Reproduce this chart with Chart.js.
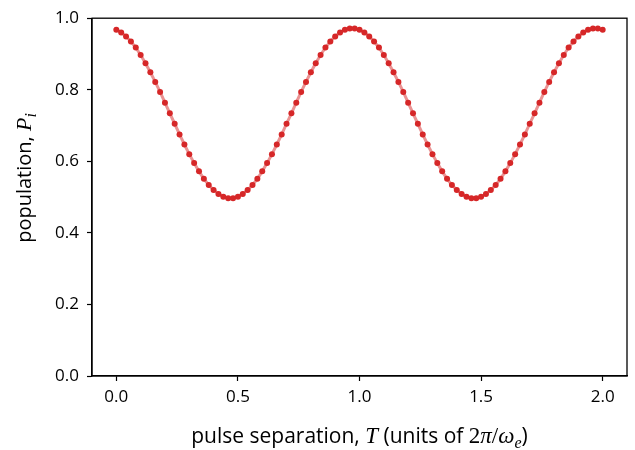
<!DOCTYPE html>
<html>
<head>
<meta charset="utf-8">
<script src="https://cdn.jsdelivr.net/npm/chart.js@4"></script>
<style>
  html, body { margin: 0; padding: 0; background: #fff; }
  #wrap { width: 635px; height: 450px; }
</style>
</head>
<body>
<div id="wrap"><canvas id="myChart" width="635" height="450"></canvas></div>
<script>
// pulse separation T (units of 2pi/omega_e), step 0.02
const separations = [
  0.00, 0.02, 0.04, 0.06, 0.08, 0.10, 0.12, 0.14, 0.16, 0.18,
  0.20, 0.22, 0.24, 0.26, 0.28, 0.30, 0.32, 0.34, 0.36, 0.38,
  0.40, 0.42, 0.44, 0.46, 0.48, 0.50, 0.52, 0.54, 0.56, 0.58,
  0.60, 0.62, 0.64, 0.66, 0.68, 0.70, 0.72, 0.74, 0.76, 0.78,
  0.80, 0.82, 0.84, 0.86, 0.88, 0.90, 0.92, 0.94, 0.96, 0.98,
  1.00, 1.02, 1.04, 1.06, 1.08, 1.10, 1.12, 1.14, 1.16, 1.18,
  1.20, 1.22, 1.24, 1.26, 1.28, 1.30, 1.32, 1.34, 1.36, 1.38,
  1.40, 1.42, 1.44, 1.46, 1.48, 1.50, 1.52, 1.54, 1.56, 1.58,
  1.60, 1.62, 1.64, 1.66, 1.68, 1.70, 1.72, 1.74, 1.76, 1.78,
  1.80, 1.82, 1.84, 1.86, 1.88, 1.90, 1.92, 1.94, 1.96, 1.98,
  2.00,
];

// population P_i
const population = [
  0.968, 0.960, 0.949, 0.935, 0.918, 0.897, 0.874, 0.849, 0.822, 0.794,
  0.764, 0.734, 0.705, 0.675, 0.647, 0.620, 0.595, 0.572, 0.551, 0.534,
  0.520, 0.509, 0.501, 0.497, 0.497, 0.501, 0.509, 0.520, 0.534, 0.551,
  0.572, 0.595, 0.620, 0.647, 0.675, 0.705, 0.734, 0.764, 0.794, 0.822,
  0.849, 0.874, 0.897, 0.918, 0.935, 0.949, 0.960, 0.968, 0.971, 0.971,
  0.968, 0.960, 0.949, 0.935, 0.918, 0.897, 0.874, 0.849, 0.822, 0.794,
  0.764, 0.734, 0.705, 0.675, 0.647, 0.620, 0.595, 0.572, 0.551, 0.534,
  0.520, 0.509, 0.501, 0.497, 0.497, 0.501, 0.509, 0.520, 0.534, 0.551,
  0.572, 0.595, 0.620, 0.647, 0.675, 0.705, 0.734, 0.764, 0.794, 0.822,
  0.849, 0.874, 0.897, 0.918, 0.935, 0.949, 0.960, 0.968, 0.971, 0.971,
  0.968,
];

const xTicks = [0.0, 0.5, 1.0, 1.5, 2.0];
const yTicks = [0.0, 0.2, 0.4, 0.6, 0.8, 1.0];

const TEXT_FONT = "'Open Sans'";
const MATH_FONT = "'Liberation Serif'";

// axis titles mixing plain text and math italics
const xTitle = [
  { t: "pulse separation, ", k: "text" },
  { t: "T", k: "math" },
  { t: " (units of ", k: "text" },
  { t: "2", k: "mathup" },
  { t: "π", k: "math" },
  { t: "/", k: "mathup" },
  { t: "ω", k: "math" },
  { t: "e", k: "sub" },
  { t: ")", k: "text" },
];
const yTitle = [
  { t: "population, ", k: "text" },
  { t: "P", k: "math" },
  { t: "i", k: "sub" },
];

function segFont(k, size) {
  if (k === "math") return "italic " + (size + 2) + "px " + MATH_FONT;
  if (k === "mathup") return (size + 2) + "px " + MATH_FONT;
  if (k === "sub") return "italic " + Math.round(size * 0.78) + "px " + MATH_FONT;
  return size + "px " + TEXT_FONT;
}

function drawRich(ctx, segs, cx, cy, size, angle) {
  ctx.save();
  ctx.translate(cx, cy);
  ctx.rotate(angle);
  ctx.textBaseline = "alphabetic";
  ctx.textAlign = "left";
  ctx.fillStyle = "#000";
  let total = 0;
  segs.forEach((s) => {
    ctx.font = segFont(s.k, size);
    s.w = ctx.measureText(s.t).width;
    total += s.w;
  });
  let x = -total / 2;
  const base = size * 0.36;
  segs.forEach((s) => {
    ctx.font = segFont(s.k, size);
    const dy = s.k === "sub" ? size * 0.25 : 0;
    ctx.fillText(s.t, x, base + dy);
    x += s.w;
  });
  ctx.restore();
}

const framePlugin = {
  id: "frame",
  afterDraw(chart) {
    const ctx = chart.ctx;
    const a = chart.chartArea;
    ctx.save();
    ctx.strokeStyle = "#000";
    ctx.lineWidth = 1.3;
    ctx.strokeRect(a.left, a.top, a.right - a.left, a.bottom - a.top);
    ctx.restore();
    drawRich(ctx, xTitle, (a.left + a.right) / 2, 435, 21, 0);
    drawRich(ctx, yTitle, 24, 178, 20, -Math.PI / 2);
  },
};

const points = separations.map((t, i) => ({ x: t, y: population[i] }));

var ctx = document.getElementById("myChart").getContext("2d");
new Chart(ctx, {
  type: "line",
  data: {
    datasets: [
      {
        label: "population",
        data: points,
        borderColor: "rgba(214, 39, 40, 0.5)",
        borderWidth: 3,
        pointRadius: 3,
        pointBorderWidth: 0,
        pointBackgroundColor: "#d62728",
        tension: 0,
      },
    ],
  },
  options: {
    responsive: false,
    animation: false,
    layout: { padding: { top: 14, right: 8, left: 0, bottom: 0 } },
    plugins: {
      legend: { display: false },
      tooltip: { enabled: false },
    },
    scales: {
      x: {
        type: "linear",
        min: -0.1,
        max: 2.1,
        afterBuildTicks: (scale) => {
          scale.ticks = xTicks.map((v) => ({ value: v }));
        },
        afterFit: (scale) => {
          scale.height = 74;
        },
        grid: {
          drawOnChartArea: false,
          drawTicks: true,
          tickLength: 5,
          tickWidth: 1.2,
          tickColor: "#000",
        },
        border: { display: true, color: "#000", width: 1.3 },
        ticks: {
          color: "#000",
          padding: 6,
          maxRotation: 0,
          font: { family: TEXT_FONT, size: 17 },
          callback: (v) => v.toFixed(1),
        },
      },
      y: {
        min: 0,
        max: 1,
        afterBuildTicks: (scale) => {
          scale.ticks = yTicks.map((v) => ({ value: v }));
        },
        afterFit: (scale) => {
          scale.width = 92;
        },
        grid: {
          drawOnChartArea: false,
          drawTicks: true,
          tickLength: 5,
          tickWidth: 1.2,
          tickColor: "#000",
        },
        border: { display: true, color: "#000", width: 1.3 },
        ticks: {
          color: "#000",
          padding: 8,
          font: { family: TEXT_FONT, size: 17 },
          callback: (v) => v.toFixed(1),
        },
      },
    },
  },
  plugins: [framePlugin],
});
</script>
</body>
</html>
